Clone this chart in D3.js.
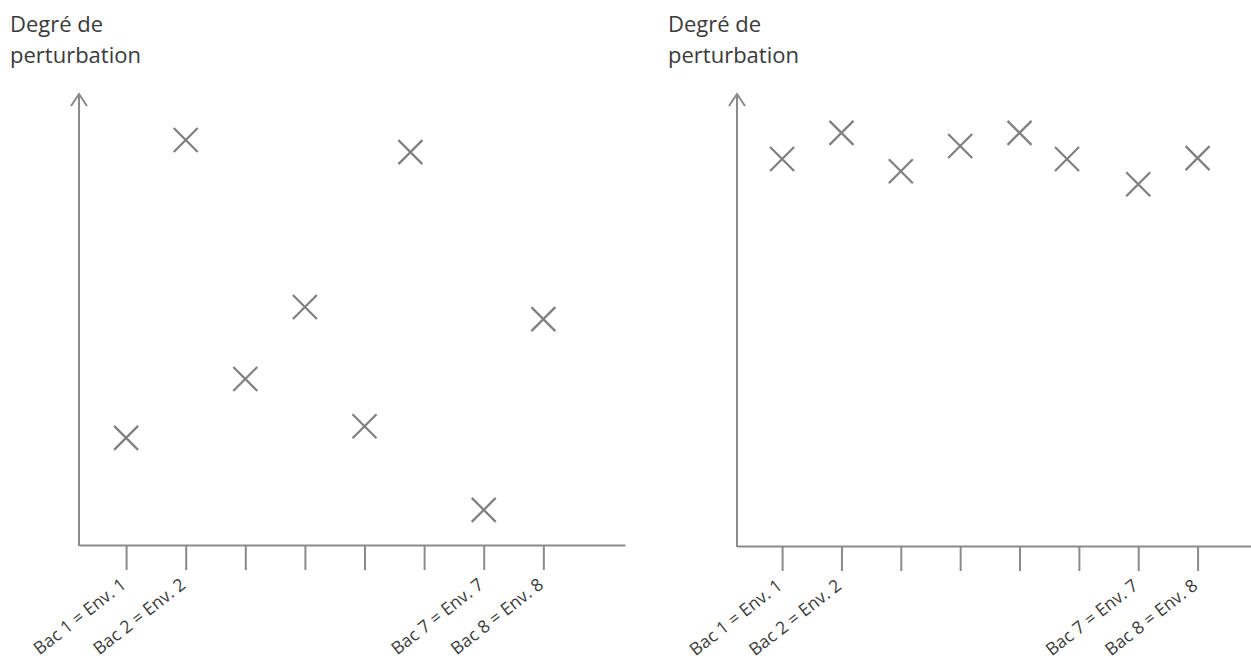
<!DOCTYPE html>
<html>
<head>
<meta charset="utf-8">
<script src="https://cdn.jsdelivr.net/npm/d3@7"></script>
<style>
  html, body { margin: 0; padding: 0; background: #fff; }
  svg { display: block; }
</style>
</head>
<body>
<svg id="chart" width="1251" height="662"></svg>
<script>
// ---- Data ----
const categories = [1, 2, 3, 4, 5, 6, 7, 8];
const tickLabels = ["Bac 1 = Env. 1", "Bac 2 = Env. 2", "", "", "", "", "Bac 7 = Env. 7", "Bac 8 = Env. 8"];
const yTitleLines = ["Degré de", "perturbation"];

// Left panel: scattered disturbance levels
const leftX = [1, 2, 3, 4, 5, 5.77, 7, 8];
const leftY = [23.8, 90, 36.9, 52.9, 26.4, 87.3, 7.8, 50.2];

// Right panel: homogeneous high disturbance levels
const rightX = [1, 2, 3, 4, 5, 5.8, 7, 8];
const rightY = [85.8, 91.6, 83.1, 88.7, 91.6, 85.8, 80.2, 86.0];

const svg = d3.select("#chart");
const gray = "#8a8a8a";
const markGray = "#7f7f7f";
const textGray = "#3a3a3a";

function drawPanel(cfg) {
  const g = svg.append("g");
  const x = d3.scaleLinear().domain(cfg.xDomain).range([cfg.left, cfg.right]);
  const y = d3.scaleLinear().domain([0, 100]).range([cfg.bottom, cfg.top]);

  // Title
  const t = g.append("text")
    .attr("x", cfg.titleX)
    .attr("y", 32)
    .attr("font-family", "'Open Sans', sans-serif")
    .attr("font-size", 22)
    .attr("fill", textGray);
  yTitleLines.forEach((s, i) => {
    t.append("tspan").attr("x", cfg.titleX).attr("dy", i === 0 ? 0 : 31).text(s);
  });

  // X axis
  const xAxis = d3.axisBottom(x)
    .tickValues(categories)
    .tickSize(25)
    .tickSizeOuter(0)
    .tickPadding(0)
    .tickFormat((d, i) => tickLabels[i]);
  const ax = g.append("g")
    .attr("transform", `translate(0,${cfg.bottom})`)
    .call(xAxis);
  ax.select(".domain").attr("stroke", gray).attr("stroke-width", 2);
  ax.selectAll(".tick line").attr("stroke", gray).attr("stroke-width", 2);
  ax.selectAll(".tick text")
    .attr("font-family", "'Open Sans', sans-serif")
    .attr("font-size", 17.5)
    .attr("fill", textGray)
    .attr("text-anchor", "end")
    .attr("transform", "translate(-3,37) rotate(-38)")
    .attr("dy", "0.35em")
    .attr("y", 0);

  // Y axis with open arrow
  g.append("line")
    .attr("x1", cfg.left).attr("x2", cfg.left)
    .attr("y1", cfg.bottom + 1).attr("y2", cfg.arrowTop)
    .attr("stroke", gray).attr("stroke-width", 2);
  g.append("path")
    .attr("d", `M${cfg.left - 8},${cfg.arrowTop + 12} L${cfg.left},${cfg.arrowTop} L${cfg.left + 8},${cfg.arrowTop + 12}`)
    .attr("fill", "none").attr("stroke", gray).attr("stroke-width", 2);

  // Markers (X shapes)
  const half = 12;
  const pts = cfg.xs.map((v, i) => ({ x: v, y: cfg.ys[i] }));
  g.selectAll("path.mark")
    .data(pts)
    .join("path")
    .attr("class", "mark")
    .attr("d", d => {
      const cx = x(d.x), cy = y(d.y);
      return `M${cx - half},${cy - half}L${cx + half},${cy + half}M${cx - half},${cy + half}L${cx + half},${cy - half}`;
    })
    .attr("fill", "none")
    .attr("stroke", markGray)
    .attr("stroke-width", 2.2);
}

drawPanel({
  xDomain: [0.21, 9.37], left: 79, right: 625,
  top: 95, bottom: 545, arrowTop: 94, titleX: 10,
  xs: leftX, ys: leftY
});
drawPanel({
  xDomain: [0.24, 8.9], left: 737, right: 1251,
  top: 95, bottom: 546, arrowTop: 94, titleX: 668,
  xs: rightX, ys: rightY
});
</script>
</body>
</html>
